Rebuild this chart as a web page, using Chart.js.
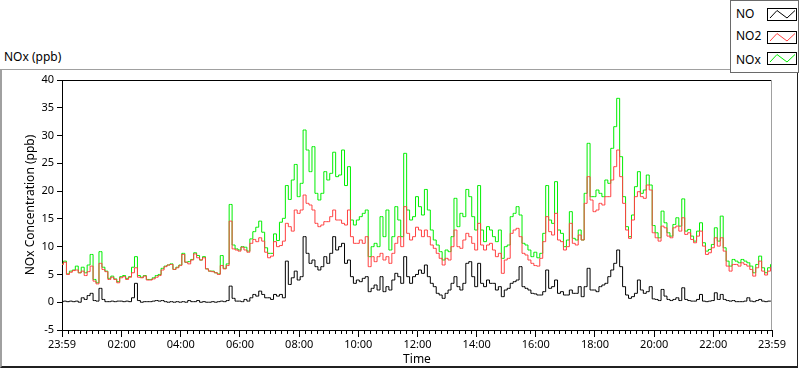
<!DOCTYPE html>
<html>
<head>
<meta charset="utf-8">
<title>NOx (ppb)</title>
<script src="https://cdn.jsdelivr.net/npm/chart.js@4.4.0/dist/chart.umd.min.js"></script>
<style>
body { margin: 0; background: #fff; font-family: "Noto Sans", sans-serif; color: #000; }
#wrap { position: relative; width: 800px; height: 369px; overflow: hidden; }
#frame { position: absolute; left: 0; top: 69px; width: 795px; height: 296px;
  border-left: 2px solid #a0a0a0; border-top: 1px solid #a0a0a0;
  border-right: 1px solid #202020; border-bottom: 2px solid #202020; }
#title { position: absolute; left: 4px; top: 48px; font-size: 12px; }
#chart { position: absolute; left: 0; top: 0; }
#legend { position: absolute; left: 730px; top: 0; width: 69px; height: 73px; box-sizing: border-box;
  border: 1px solid #6a6a6a; background: #fff; font-size: 12px; }
#legend .row { position: absolute; left: 5px; height: 14px; line-height: 14px; }
#legend .box { position: absolute; left: 36px; width: 28px; height: 11px; border: 1px solid #000; background: #fff; }
#legend svg { display: block; }
</style>
</head>
<body>
<div id="wrap">
  <div id="frame"></div>
  <div id="title">NOx (ppb)</div>
  <canvas id="chart" width="800" height="369"></canvas>
  <div id="legend">
    <div class="row" style="top:6px">NO</div>
    <div class="box" style="top:7px"><svg width="28" height="11"><polyline points="2,9 9,1.5 19,9 27,1.5" fill="none" stroke="#000" stroke-width="1"/></svg></div>
    <div class="row" style="top:28px">NO2</div>
    <div class="box" style="top:30px"><svg width="28" height="11"><polyline points="2,9 9,1.5 19,9 27,1.5" fill="none" stroke="#ff4040" stroke-width="1"/></svg></div>
    <div class="row" style="top:52px">NOx</div>
    <div class="box" style="top:51px"><svg width="28" height="11"><polyline points="2,9 9,1.5 19,9 27,1.5" fill="none" stroke="#00ee00" stroke-width="1"/></svg></div>
  </div>
</div>
<script>
// samples every 6 minutes, starting at 23:59
const TIME_STEP = 6;

const xTickValues = [0, 121, 241, 361, 481, 601, 721, 841, 961, 1081, 1201, 1321, 1440];
const xTickLabels = ['23:59', '02:00', '04:00', '06:00', '08:00', '10:00', '12:00',
                     '14:00', '16:00', '18:00', '20:00', '22:00', '23:59'];

const no = [
  0.1, 0.2, 0.1, 0.2, 0.1, 0.2, 0.0, 0.8, 0.5, 1.2,
  1.6, 0.3, 0.2, 2.5, 0.5, 0.1, 0.1, 0.2, 0.1, 0.2,
  0.2, 0.1, 0.2, 0.1, 0.8, 3.4, 0.3, 0.0, 0.1, 0.1,
  0.1, 0.2, 0.3, 0.2, 0.3, 0.1, 0.0, 0.1, 0.0, 0.1,
  0.0, 0.1, 0.0, 0.3, 0.1, 0.1, 0.3, 0.0, 0.1, 0.0,
  0.0, 0.1, 0.0, 0.1, 0.2, 0.1, 0.3, 2.9, 0.7, 0.2,
  0.2, 0.1, 0.5, 0.2, 0.8, 1.4, 1.1, 2.0, 1.4, 0.8,
  0.8, 0.5, 1.4, 1.1, 1.4, 0.8, 7.4, 3.2, 4.4, 5.6,
  4.0, 4.6, 11.8, 8.8, 7.0, 7.6, 6.4, 5.8, 6.4, 8.2,
  7.0, 8.8, 11.8, 9.4, 10.0, 10.6, 7.0, 7.6, 4.6, 3.4,
  4.0, 3.7, 4.3, 4.6, 1.9, 2.5, 3.1, 2.2, 4.6, 1.9,
  2.8, 2.2, 4.0, 5.2, 4.6, 3.4, 8.2, 4.6, 3.4, 4.6,
  5.0, 5.8, 5.2, 6.7, 4.6, 3.4, 2.8, 1.6, 1.3, 0.7,
  1.6, 2.2, 3.4, 4.6, 2.8, 2.2, 3.4, 7.0, 7.3, 4.6,
  2.8, 7.0, 3.4, 2.8, 4.0, 3.4, 3.4, 2.2, 2.8, 1.0,
  2.2, 2.5, 3.4, 3.7, 4.0, 6.4, 2.8, 2.5, 2.2, 1.6,
  1.5, 1.3, 1.3, 1.9, 5.8, 2.5, 2.8, 4.0, 1.6, 1.9,
  1.3, 1.3, 2.2, 1.6, 1.6, 2.8, 1.0, 2.8, 6.1, 2.2,
  2.2, 1.9, 2.8, 3.1, 3.4, 4.6, 5.8, 7.0, 9.4, 6.4,
  2.8, 1.3, 0.7, 1.0, 1.6, 4.0, 2.2, 1.6, 1.9, 2.8,
  0.6, 0.5, 0.3, 2.3, 1.1, 0.5, 0.3, 0.5, 0.8, 0.3,
  2.6, 0.5, 0.3, 0.2, 0.2, 0.5, 1.4, 0.2, 0.1, 0.2,
  0.3, 1.7, 0.5, 1.4, 0.5, 0.3, 0.2, 0.3, 0.1, 0.1,
  0.1, 0.2, 0.8, 0.2, 0.1, 0.3, 0.5, 0.2, 0.1, 0.2, 0.2
];

const no2 = [
  6.8, 7.2, 5.0, 5.4, 5.7, 5.8, 5.3, 5.6, 4.8, 5.5,
  6.5, 3.8, 3.3, 7.0, 5.9, 5.5, 4.1, 4.5, 4.1, 3.5,
  4.4, 4.6, 4.1, 4.5, 5.3, 6.2, 4.5, 4.4, 4.7, 4.0,
  4.0, 4.2, 4.5, 4.8, 5.8, 6.4, 6.7, 6.8, 5.9, 6.2,
  6.6, 8.6, 7.2, 6.9, 7.6, 8.7, 8.0, 7.6, 8.0, 6.0,
  5.6, 5.5, 5.3, 5.0, 6.6, 6.0, 6.6, 14.6, 9.6, 9.4,
  9.2, 9.9, 9.4, 9.0, 10.6, 11.3, 10.9, 11.6, 11.0, 9.0,
  8.0, 8.3, 10.9, 10.0, 10.2, 11.0, 14.2, 13.6, 12.8, 16.6,
  16.0, 16.6, 19.3, 17.8, 17.5, 16.6, 14.2, 13.6, 13.9, 14.5,
  14.5, 15.4, 16.6, 14.8, 14.8, 14.2, 13.9, 16.6, 11.8, 10.6,
  10.6, 11.2, 10.6, 11.8, 6.4, 8.2, 7.3, 8.2, 8.8, 7.6,
  8.2, 7.0, 8.8, 10.6, 11.8, 10.0, 17.2, 12.4, 11.2, 11.8,
  13.5, 13.0, 11.8, 13.0, 11.8, 10.3, 9.7, 8.8, 7.9, 6.7,
  7.9, 7.6, 10.0, 13.0, 10.0, 9.7, 11.2, 12.4, 11.8, 10.6,
  9.4, 14.2, 10.3, 9.4, 10.3, 10.6, 9.4, 8.2, 8.8, 5.2,
  7.6, 7.9, 12.4, 13.0, 13.3, 11.8, 8.8, 8.5, 7.6, 7.0,
  6.6, 6.5, 7.9, 10.9, 15.4, 12.7, 12.1, 16.0, 11.2, 10.9,
  9.4, 10.0, 14.2, 10.6, 10.3, 12.1, 11.2, 17.8, 22.6, 18.4,
  16.3, 16.6, 17.8, 17.5, 19.0, 19.0, 22.0, 24.4, 27.4, 22.6,
  17.8, 13.0, 11.5, 14.8, 19.0, 19.9, 19.0, 18.7, 21.1, 20.2,
  12.5, 11.6, 11.0, 13.7, 13.4, 11.9, 11.6, 13.4, 13.7, 12.8,
  15.2, 12.2, 12.5, 11.3, 10.7, 11.9, 12.8, 10.1, 8.6, 8.9,
  9.8, 11.6, 10.1, 11.6, 9.2, 6.5, 5.6, 6.8, 6.8, 6.5,
  7.1, 6.8, 6.5, 5.9, 4.7, 6.2, 7.4, 5.6, 4.9, 5.6, 6.3
];

const nox = [
  6.9, 7.4, 5.1, 5.6, 5.8, 6.5, 5.3, 6.3, 5.3, 6.7,
  8.6, 4.1, 3.5, 9.1, 6.3, 5.6, 4.3, 4.7, 4.2, 3.7,
  4.6, 4.8, 4.3, 4.6, 6.3, 8.2, 4.8, 4.5, 4.8, 4.1,
  4.1, 4.4, 4.8, 5.0, 6.1, 6.5, 6.7, 6.9, 5.9, 6.3,
  6.7, 8.8, 7.2, 7.3, 7.7, 8.9, 8.4, 7.6, 8.2, 6.0,
  5.6, 5.6, 5.3, 5.1, 8.4, 6.1, 6.9, 17.6, 10.3, 9.6,
  9.4, 10.0, 9.9, 9.2, 11.4, 12.7, 13.5, 14.6, 12.6, 9.8,
  8.8, 8.8, 12.3, 11.1, 14.4, 15.1, 21.0, 18.5, 22.0, 24.8,
  19.0, 21.4, 31.0, 27.4, 23.5, 28.0, 19.6, 18.4, 19.6, 23.5,
  22.0, 23.2, 27.0, 22.6, 22.9, 27.4, 21.0, 24.4, 14.8, 13.9,
  14.8, 15.4, 16.0, 16.6, 8.2, 10.0, 10.6, 10.0, 15.4, 11.8,
  16.6, 9.4, 11.8, 17.2, 14.8, 11.8, 26.8, 16.6, 14.8, 15.4,
  19.0, 17.2, 15.7, 20.3, 16.6, 13.0, 11.2, 10.3, 9.1, 7.6,
  9.4, 9.1, 11.8, 18.7, 13.6, 16.0, 15.4, 20.3, 19.0, 15.4,
  13.0, 21.0, 13.0, 10.9, 13.6, 13.0, 11.8, 10.9, 13.0, 7.9,
  10.0, 10.3, 15.4, 16.0, 17.2, 15.7, 10.6, 10.3, 9.4, 8.2,
  9.0, 8.0, 8.8, 12.4, 21.0, 14.8, 14.2, 21.7, 13.0, 12.4,
  10.0, 11.2, 16.3, 11.5, 11.2, 13.0, 11.2, 19.6, 28.6, 19.0,
  19.0, 20.2, 19.6, 19.0, 22.0, 21.4, 27.7, 31.6, 36.7, 26.2,
  19.0, 13.6, 11.8, 15.7, 20.8, 23.5, 19.6, 20.2, 22.9, 21.1,
  13.8, 12.5, 11.6, 16.4, 14.3, 12.5, 11.9, 14.0, 15.2, 13.7,
  18.6, 12.8, 13.1, 11.9, 11.0, 12.8, 14.3, 10.7, 9.2, 9.5,
  10.4, 13.4, 11.0, 15.5, 9.8, 7.4, 6.5, 7.7, 7.4, 7.1,
  7.7, 7.4, 7.1, 6.5, 5.3, 6.8, 8.3, 6.2, 5.3, 6.2, 6.8
];

const times = no.map((_, i) => i * TIME_STEP);

function points(values) {
  return values.map((v, i) => ({ x: times[i], y: v }));
}

const fontFamily = '"Noto Sans", sans-serif';

// minor x ticks every 12 min + top/right edges of the plot box
const plotFrame = {
  id: 'plotFrame',
  afterDraw(chart) {
    const ctx = chart.ctx;
    const area = chart.chartArea;
    const xs = chart.scales.x;
    ctx.save();
    ctx.lineWidth = 1;
    ctx.strokeStyle = '#000';
    ctx.beginPath();
    for (let m = 13; m < 1440; m += 12) {
      if (xTickValues.includes(m)) continue;
      const px = Math.round(xs.getPixelForValue(m)) + 0.5;
      ctx.moveTo(px, area.bottom);
      ctx.lineTo(px, area.bottom + 4);
    }
    ctx.moveTo(area.left, Math.round(area.top) + 0.5);
    ctx.lineTo(area.right, Math.round(area.top) + 0.5);
    ctx.stroke();
    ctx.strokeStyle = '#a0a0a0';
    ctx.beginPath();
    ctx.moveTo(Math.round(area.right) - 0.5, area.top);
    ctx.lineTo(Math.round(area.right) - 0.5, area.bottom);
    ctx.stroke();
    ctx.restore();
  }
};

new Chart(document.getElementById('chart'), {
  type: 'line',
  data: {
    datasets: [
      { label: 'NO', data: points(no), borderColor: '#000000' },
      { label: 'NO2', data: points(no2), borderColor: '#ff4040' },
      { label: 'NOx', data: points(nox), borderColor: '#00ee00' },
    ]
  },
  options: {
    responsive: false,
    animation: false,
    layout: { padding: { left: 0, right: 28, top: 80, bottom: 0 } },
    elements: {
      line: { borderWidth: 1, tension: 0, stepped: 'middle' },
      point: { radius: 0 }
    },
    plugins: { legend: { display: false }, tooltip: { enabled: false } },
    scales: {
      x: {
        type: 'linear',
        min: 0,
        max: 1440,
        afterBuildTicks: s => { s.ticks = xTickValues.map(v => ({ value: v })); },
        afterFit: s => { s.height = 39; },
        ticks: {
          autoSkip: false,
          maxRotation: 0,
          padding: 1,
          color: '#000',
          font: { family: fontFamily, size: 11 },
          callback: (v) => xTickLabels[xTickValues.indexOf(v)]
        },
        grid: { drawOnChartArea: false, tickLength: 7, color: '#000' },
        border: { color: '#000' },
        title: { display: true, text: 'Time', color: '#000',
                 font: { family: fontFamily, size: 12 }, padding: { top: 0, bottom: 2 } }
      },
      y: {
        min: -5,
        max: 40,
        afterFit: s => { s.width = 62; },
        ticks: { stepSize: 5, padding: 3, color: '#000', font: { family: fontFamily, size: 11 } },
        grid: { drawOnChartArea: false, tickLength: 5, color: '#000' },
        border: { color: '#000' },
        title: { display: true, text: 'NOx Concentration (ppb)', color: '#000',
                 font: { family: fontFamily, size: 12 }, padding: { top: 23, bottom: 0 } }
      }
    }
  },
  plugins: [plotFrame]
});
</script>
</body>
</html>
